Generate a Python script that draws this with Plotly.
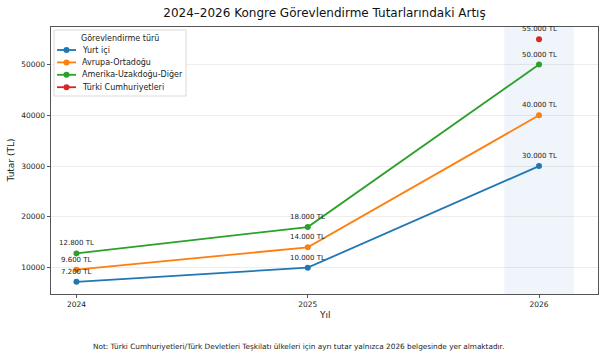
import plotly.graph_objects as go

years = [2024, 2025, 2026]
series_names = ["Yurt içi", "Avrupa-Ortadoğu", "Amerika-Uzakdoğu-Diğer", "Türki Cumhuriyetleri"]
yurt_ici = [7200, 10000, 30000]
avrupa = [9600, 14000, 40000]
amerika = [12800, 18000, 50000]
turki_years = [2026]
turki = [55000]
colors = ["#1f77b4", "#ff7f0e", "#2ca02c", "#d62728"]
y_ticks = [10000, 20000, 30000, 40000, 50000]
highlight_year = 2026

FONT = "DejaVu Sans"
W, H = 605, 356
L, R, T, B = 51, 7, 27, 62
PW, PH = W - L - R, H - T - B


def px_x(px):
    return (px - L) / PW


def px_y(py):
    return (H - B - py) / PH


def tl(v):
    return f"{v:,}".replace(",", ".") + " TL"


fig = go.Figure()

data = [
    (years, yurt_ici),
    (years, avrupa),
    (years, amerika),
    (turki_years, turki),
]

for (xs, ys), name, c in zip(data, series_names, colors):
    fig.add_trace(go.Scatter(
        x=xs, y=ys, name=name, mode="lines+markers",
        line=dict(color=c, width=1.8),
        marker=dict(color=c, size=6),
        showlegend=False,
    ))
    for x, y in zip(xs, ys):
        fig.add_annotation(
            x=x, y=y, text=tl(y), showarrow=False, yshift=10,
            font=dict(family=FONT, size=7, color="#222"),
            xanchor="center", yanchor="middle",
        )

fig.add_shape(
    type="rect", xref="x", yref="paper",
    x0=highlight_year - 0.15, x1=highlight_year + 0.15, y0=0, y1=1,
    fillcolor="rgba(31,119,180,0.07)", line=dict(width=0), layer="below",
)

# legend (drawn manually to match compact matplotlib spacing)
lg_left, lg_right, lg_top, lg_bottom = 54, 186, 30, 96
fig.add_shape(
    type="rect", xref="paper", yref="paper",
    x0=px_x(lg_left), x1=px_x(lg_right), y0=px_y(lg_bottom), y1=px_y(lg_top),
    fillcolor="rgba(255,255,255,0.85)", line=dict(color="#d0d0d0", width=0.8),
    layer="above",
)
fig.add_annotation(
    xref="paper", yref="paper", x=px_x((lg_left + lg_right) / 2), y=px_y(38),
    text="Görevlendirme türü", showarrow=False,
    font=dict(family=FONT, size=8, color="#222"), xanchor="center", yanchor="middle",
)
for i, (name, c) in enumerate(zip(series_names, colors)):
    yy = 50 + 12.4 * i
    fig.add_shape(
        type="line", xref="paper", yref="paper",
        x0=px_x(57), x1=px_x(76), y0=px_y(yy), y1=px_y(yy),
        line=dict(color=c, width=1.8), layer="above",
    )
    fig.add_shape(
        type="circle", xref="paper", yref="paper",
        x0=px_x(63.5), x1=px_x(69.5), y0=px_y(yy + 3), y1=px_y(yy - 3),
        fillcolor=c, line=dict(color=c, width=0), layer="above",
    )
    fig.add_annotation(
        xref="paper", yref="paper", x=px_x(80), y=px_y(yy),
        text=name, showarrow=False,
        font=dict(family=FONT, size=8, color="#222"), xanchor="left", yanchor="middle",
    )

# axis titles
fig.add_annotation(
    xref="paper", yref="paper", x=0.5, y=px_y(315),
    text="Yıl", showarrow=False, font=dict(family=FONT, size=9, color="#222"),
    xanchor="center", yanchor="middle",
)
fig.add_annotation(
    xref="paper", yref="paper", x=px_x(10), y=0.5,
    text="Tutar (TL)", showarrow=False, textangle=-90,
    font=dict(family=FONT, size=9, color="#222"),
    xanchor="center", yanchor="middle",
)

fig.add_annotation(
    xref="paper", yref="paper", x=px_x(298), y=px_y(346),
    text="Not: Türki Cumhuriyetleri/Türk Devletleri Teşkilatı ülkeleri için ayrı tutar yalnızca 2026 belgesinde yer almaktadır.",
    showarrow=False, font=dict(family=FONT, size=7.3, color="#222"),
    xanchor="center", yanchor="middle",
)

fig.update_layout(
    width=W, height=H,
    margin=dict(l=L, r=R, t=T, b=B, autoexpand=False),
    paper_bgcolor="white", plot_bgcolor="white",
    font=dict(family=FONT, size=7.5, color="#222"),
    title=dict(
        text="2024–2026 Kongre Görevlendirme Tutarlarındaki Artış",
        xref="paper", x=0.5, xanchor="center", yref="container", y=1 - 13 / H, yanchor="middle",
        font=dict(family=FONT, size=12, color="#111"),
    ),
    showlegend=False,
    hovermode=False,
    xaxis=dict(
        range=[2023.89, 2026.255], tickmode="array", tickvals=years,
        ticktext=[str(y) for y in years], automargin=False,
        showgrid=False, zeroline=False,
        showline=True, mirror=True, linecolor="#555", linewidth=0.8,
        ticks="outside", ticklen=3.5, tickcolor="#555",
        tickfont=dict(family=FONT, size=7.5),
    ),
    yaxis=dict(
        range=[4810, 57390], tickmode="array", tickvals=y_ticks,
        ticktext=[str(v) for v in y_ticks], automargin=False,
        showgrid=True, gridcolor="rgba(0,0,0,0.07)", gridwidth=0.8, zeroline=False,
        showline=True, mirror=True, linecolor="#555", linewidth=0.8,
        ticks="outside", ticklen=3.5, tickcolor="#555",
        tickfont=dict(family=FONT, size=7.5),
    ),
)

fig.write_html(
    "out.html",
    config={"displayModeBar": False},
    post_script="document.body.style.margin='0';document.body.style.padding='0';",
)
